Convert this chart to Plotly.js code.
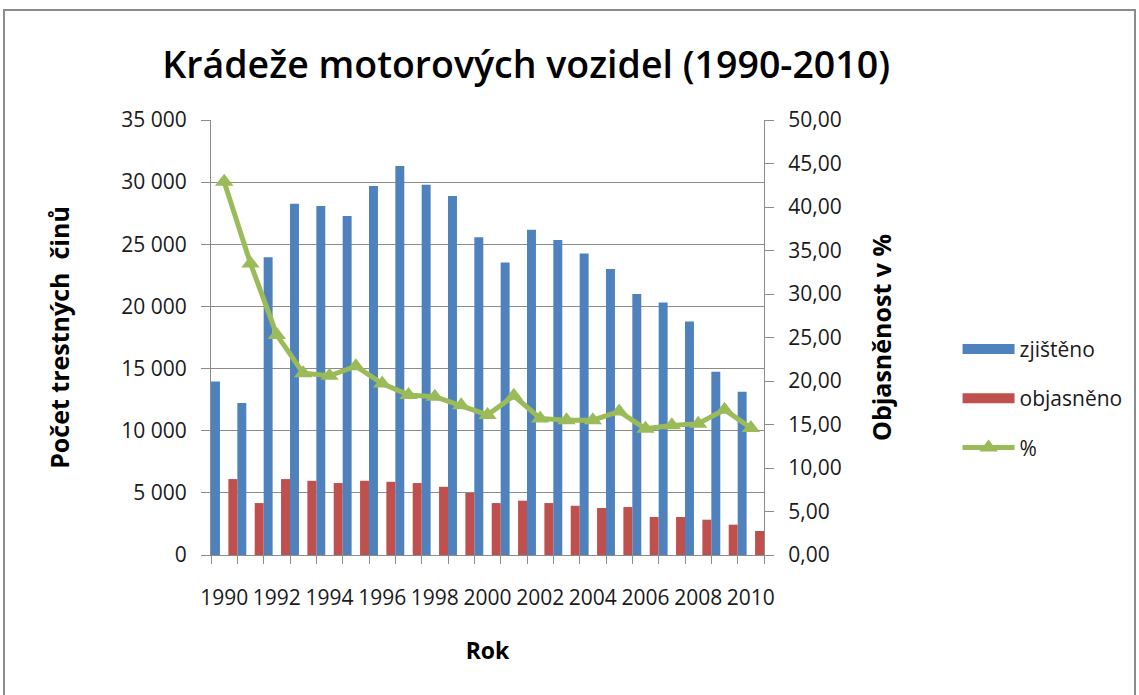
<!DOCTYPE html>
<html>
<head>
<meta charset="utf-8">
<script src="https://cdn.plot.ly/plotly-3.0.1.min.js"></script>
<style>
  html, body { margin: 0; padding: 0; background: #ffffff; }
  #wrap { position: relative; width: 1139px; height: 695px; overflow: hidden; }
  #chart { position: absolute; left: 0; top: 0; width: 1139px; height: 695px; }
  #frame { position: absolute; left: 3px; top: 9px; width: 1133px; height: 720px;
           border: 2px solid #8c8c8c; pointer-events: none; box-sizing: border-box; }
</style>
</head>
<body>
<div id="wrap">
  <div id="chart"></div>
  <div id="frame"></div>
</div>
<script>
// ---- data ----
const years = [1990, 1991, 1992, 1993, 1994, 1995, 1996, 1997, 1998, 1999, 2000,
               2001, 2002, 2003, 2004, 2005, 2006, 2007, 2008, 2009, 2010];
const zjisteno = [13960, 12220, 23960, 28270, 28090, 27280, 29690, 31300, 29800, 28890, 25570,
                  23530, 26160, 25350, 24250, 23020, 21010, 20310, 18780, 14740, 13130];
const objasneno = [6110, 4180, 6110, 5970, 5790, 5970, 5890, 5790, 5490, 4990, 4180,
                   4370, 4180, 3960, 3780, 3860, 3060, 3060, 2840, 2440, 1930];
const procenta = [42.9, 33.5, 25.3, 20.9, 20.6, 21.7, 19.7, 18.4, 18.2, 17.2, 16.1,
                  18.3, 15.7, 15.5, 15.5, 16.5, 14.5, 14.9, 15.1, 16.7, 14.6];
const seriesNames = ['zjištěno', 'objasněno', '%'];
const titleText = 'Krádeže motorových vozidel (1990-2010)';
const yTitle = 'Počet trestných  činů';
const y2Title = 'Objasněnost v %';
const xTitle = 'Rok';

const FONT = '"Open Sans", "Noto Sans", sans-serif';
const GRID = '#8c8c8c';
const TXT = '#1a1a1a';
const BLUE = '#4F81BD', RED = '#C0504D', GREEN = '#9BBB59';

const traces = [
  {
    type: 'bar', name: seriesNames[0], x: years, y: zjisteno,
    offset: -0.5, width: 0.34, marker: { color: BLUE },
    showlegend: false
  },
  {
    type: 'bar', name: seriesNames[1], x: years, y: objasneno,
    offset: 0.16, width: 0.34, marker: { color: RED },
    showlegend: false
  },
  {
    type: 'scatter', mode: 'lines+markers', name: seriesNames[2], x: years, y: procenta,
    yaxis: 'y2', line: { color: GREEN, width: 5 },
    marker: { symbol: 'triangle-up', size: 16, color: GREEN },
    showlegend: false
  },
  // legend keys (Excel-style wide colour swatches)
  { type: 'scatter', mode: 'lines', name: seriesNames[0], x: [null], y: [null],
    line: { color: BLUE, width: 15 }, legendgroup: 'a', legendrank: 1 },
  { type: 'scatter', mode: 'lines', name: seriesNames[1], x: [null], y: [null],
    line: { color: RED, width: 15 }, legendgroup: 'b', legendrank: 2 },
  { type: 'scatter', mode: 'lines+markers', name: seriesNames[2], x: [null], y: [null], yaxis: 'y2',
    line: { color: GREEN, width: 5 }, marker: { symbol: 'triangle-up', size: 16, color: GREEN },
    legendgroup: 'c', legendrank: 3 }
];

const layout = {
  width: 1139, height: 695,
  margin: { l: 211, r: 371, t: 120, b: 140 },
  paper_bgcolor: '#ffffff', plot_bgcolor: '#ffffff',
  separators: ', ',
  barmode: 'overlay',
  font: { family: FONT, color: TXT, size: 20 },
  title: {
    text: titleText, x: 0.462, xanchor: 'center', y: 0.906, yanchor: 'middle',
    font: { family: FONT, size: 37.5, color: '#000000', weight: 600 }
  },
  xaxis: {
    range: [1989.5, 2010.5], tickmode: 'linear', tick0: 1990, dtick: 2,
    ticks: 'outside', ticklen: 24, tickcolor: 'rgba(0,0,0,0)',
    showline: true, linecolor: GRID, linewidth: 1, showgrid: false, zeroline: false,
    tickfont: { family: FONT, size: 21, color: TXT },
    minor: { tick0: 1989.5, dtick: 1, ticks: 'outside', ticklen: 8, tickcolor: GRID, tickwidth: 1, showgrid: false },
    title: { text: xTitle, standoff: 32, font: { family: FONT, size: 23, color: '#000000', weight: 'bold' } }
  },
  yaxis: {
    range: [0, 35000], tickmode: 'linear', tick0: 0, dtick: 5000, tickformat: ',d',
    ticks: 'outside', ticklen: 9, tickcolor: GRID, showline: true, linecolor: GRID,
    ticklabelstandoff: 10,
    showgrid: true, gridcolor: GRID, gridwidth: 1, zeroline: false,
    tickfont: { family: FONT, size: 21, color: TXT },
    title: { text: yTitle, standoff: 44, font: { family: FONT, size: 25, color: '#000000', weight: 'bold' } }
  },
  yaxis2: {
    overlaying: 'y', side: 'right', range: [0, 50], tickmode: 'linear', tick0: 0, dtick: 5,
    tickformat: '.2f', ticks: 'outside', ticklen: 9, tickcolor: GRID,
    ticklabelstandoff: 10,
    showline: true, linecolor: GRID, showgrid: false, zeroline: false,
    tickfont: { family: FONT, size: 21, color: TXT },
    title: { text: y2Title, standoff: 32, font: { family: FONT, size: 25, color: '#000000', weight: 'bold' } }
  },
  showlegend: true,
  legend: {
    x: 1.35, xanchor: 'left', y: 0.52, yanchor: 'top',
    font: { family: FONT, size: 21, color: TXT },
    tracegroupgap: 19, itemwidth: 52, bgcolor: 'rgba(0,0,0,0)'
  }
};

Plotly.newPlot('chart', traces, layout, { displayModeBar: false, staticPlot: true });
</script>
</body>
</html>
